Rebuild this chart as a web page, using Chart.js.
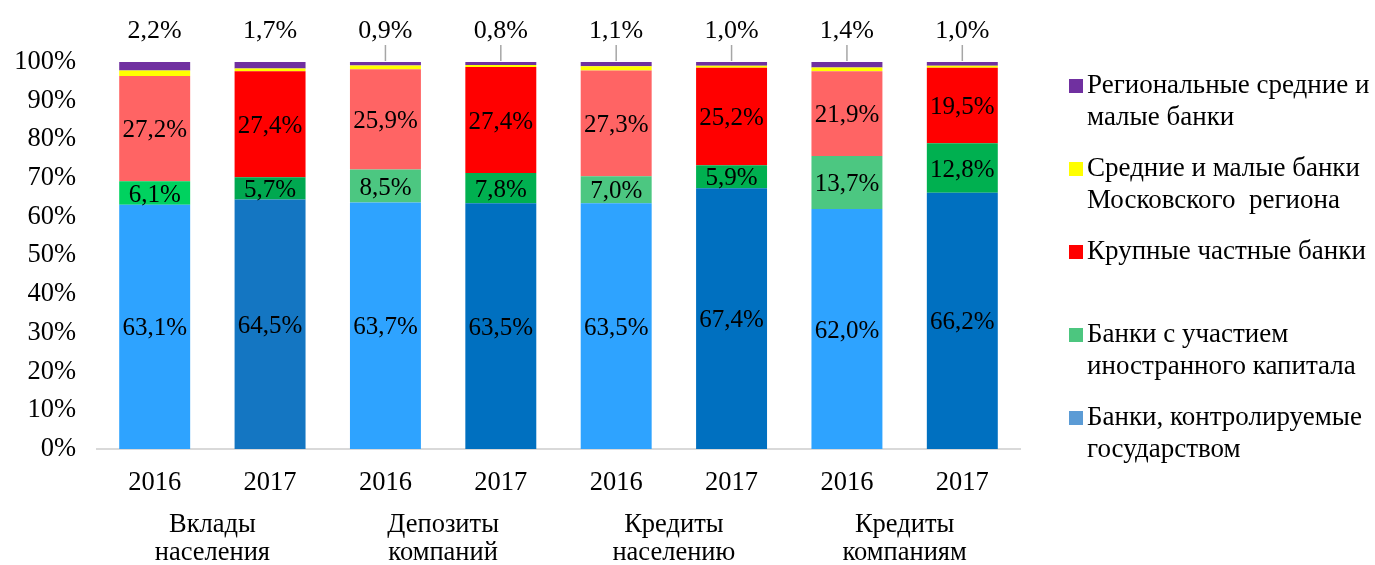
<!DOCTYPE html>
<html lang="ru">
<head>
<meta charset="UTF-8">
<title>Структура рынка по группам банков</title>
<script src="https://cdn.jsdelivr.net/npm/chart.js"></script>
<style>
    body { margin: 0; background: #fff; }
    #wrap { width: 1375px; height: 565px; position: relative; }
</style>
</head>
<body>
<div id="wrap"><canvas id="chart"></canvas></div>
<script>
    const years = ['2016', '2017', '2016', '2017', '2016', '2017', '2016', '2017'];
    const groups = [['Вклады', 'населения'], ['Депозиты', 'компаний'], ['Кредиты', 'населению'], ['Кредиты', 'компаниям']];
    const yTicks = [0, 10, 20, 30, 40, 50, 60, 70, 80, 90, 100];

    // shares, % (bottom to top)
    const stateBanks    = [63.1, 64.5, 63.7, 63.5, 63.5, 67.4, 62.0, 66.2];
    const foreignBanks  = [6.1, 5.7, 8.5, 7.8, 7.0, 5.9, 13.7, 12.8];
    const largePrivate  = [27.2, 27.4, 25.9, 27.4, 27.3, 25.2, 21.9, 19.5];
    const moscowBanks   = [1.4, 0.7, 1.0, 0.5, 1.1, 0.5, 1.0, 0.5];
    const regionalBanks = [2.2, 1.7, 0.9, 0.8, 1.1, 1.0, 1.4, 1.0];

    // legend, top to bottom
    const legendLines = [
        ['Региональные средние и', 'малые банки'],
        ['Средние и малые банки', 'Московского  региона'],
        ['Крупные частные банки'],
        ['Банки с участием', 'иностранного капитала'],
        ['Банки, контролируемые', 'государством']
    ];
    const legendColors = ['#7030A0', '#FFFF00', '#FF0000', '#4CC67F', '#5B9BD5'];

    const FONT = '"Liberation Serif", "Times New Roman", serif';
    const fmt = v => v.toFixed(1).replace('.', ',') + '%';

    const valueLabels = {
        id: 'valueLabels',
        afterDatasetsDraw(chart) {
            const ctx = chart.ctx;
            ctx.save();
            ctx.font = '25px ' + FONT;
            ctx.fillStyle = '#000';
            ctx.textAlign = 'center';
            ctx.textBaseline = 'middle';
            [0, 1, 2].forEach(di => {
                const ds = chart.data.datasets[di];
                chart.getDatasetMeta(di).data.forEach((bar, i) => {
                    const p = bar.getCenterPoint();
                    ctx.fillText(fmt(ds.data[i]), p.x, p.y + 2);
                });
            });
            const top = chart.chartArea.top;
            ctx.font = '26px ' + FONT;
            chart.getDatasetMeta(4).data.forEach((bar, i) => {
                if (i >= 2) {
                    ctx.strokeStyle = '#A6A6A6';
                    ctx.lineWidth = 1.5;
                    ctx.beginPath();
                    ctx.moveTo(bar.x, top - 17);
                    ctx.lineTo(bar.x, top - 1);
                    ctx.stroke();
                }
                ctx.fillText(fmt(regionalBanks[i]), bar.x, top - 31);
            });
            ctx.restore();
        }
    };

    const sideLegend = {
        id: 'sideLegend',
        afterDraw(chart) {
            const ctx = chart.ctx;
            ctx.save();
            ctx.font = '27px ' + FONT;
            ctx.textBaseline = 'middle';
            ctx.textAlign = 'left';
            legendLines.forEach((lines, i) => {
                const y = 86 + i * 83;
                ctx.fillStyle = legendColors[i];
                ctx.fillRect(1069, y - 7, 14, 14);
                ctx.fillStyle = '#000';
                lines.forEach((t, j) => ctx.fillText(t, 1087, y + j * 32));
            });
            ctx.restore();
        }
    };

    const ctx = document.getElementById('chart').getContext('2d');
    new Chart(ctx, {
        type: 'bar',
        data: {
            labels: years,
            datasets: [
                { label: legendLines[4].join(' '), data: stateBanks,
                  backgroundColor: ['#2EA3FF', '#1476C2', '#2EA3FF', '#0070C0', '#2EA3FF', '#0070C0', '#2EA3FF', '#0070C0'] },
                { label: legendLines[3].join(' '), data: foreignBanks,
                  backgroundColor: ['#00D25F', '#00A850', '#4CC781', '#00B050', '#4CC781', '#00B050', '#4CC781', '#00B050'] },
                { label: legendLines[2].join(' '), data: largePrivate,
                  backgroundColor: ['#FF6464', '#FF0000', '#FF6464', '#FF0000', '#FF6464', '#FF0000', '#FF6464', '#FF0000'] },
                { label: legendLines[1].join(' '), data: moscowBanks, backgroundColor: '#FFFF00' },
                { label: legendLines[0].join(' '), data: regionalBanks, backgroundColor: '#7030A0' }
            ]
        },
        options: {
            responsive: true,
            maintainAspectRatio: false,
            animation: false,
            layout: { padding: { top: 62, right: 355, left: 0, bottom: 0 } },
            datasets: { bar: { barPercentage: 0.615, categoryPercentage: 1 } },
            plugins: { legend: { display: false }, tooltip: { enabled: false } },
            scales: {
                x: {
                    stacked: true,
                    grid: { display: false, drawTicks: false },
                    border: { display: true, color: '#D9D9D9', width: 2 },
                    ticks: { color: '#000', font: { family: FONT, size: 26.5 }, padding: 18, maxRotation: 0 },
                    afterFit: s => { s.height = 50; }
                },
                x2: {
                    type: 'category',
                    position: 'bottom',
                    weight: 1,
                    labels: groups,
                    offset: true,
                    grid: { display: false, drawTicks: false },
                    border: { display: false },
                    ticks: { color: '#000', font: { family: FONT, size: 26.5, lineHeight: 1.06 }, padding: 12, maxRotation: 0 },
                    afterFit: s => { s.height = 66; }
                },
                y: {
                    stacked: true,
                    min: 0,
                    max: 100,
                    afterBuildTicks: s => { s.ticks = yTicks.map(v => ({ value: v })); },
                    grid: { display: false, drawTicks: false },
                    border: { display: false },
                    ticks: { color: '#000', font: { family: FONT, size: 26.5 }, padding: 21, callback: v => v + '%' },
                    afterFit: s => { s.width = 97; }
                }
            }
        },
        plugins: [valueLabels, sideLegend]
    });
</script>
</body>
</html>
